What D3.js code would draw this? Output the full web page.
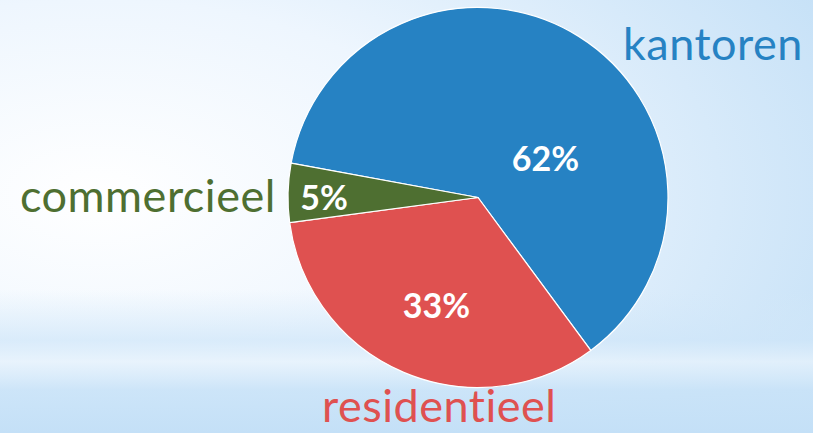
<!DOCTYPE html>
<html><head><meta charset="utf-8">
<script src="https://cdn.jsdelivr.net/npm/d3@7/dist/d3.min.js"></script>
<style>html,body{margin:0;padding:0;overflow:hidden;}svg{display:block;}</style>
</head><body>
<svg id="c" width="813" height="433"></svg>
<script>
const categories = ["kantoren", "residentieel", "commercieel"];
const values = [62, 33, 5];
const pctLabels = ["62%", "33%", "5%"];
const colors = ["#2682c3", "#df5150", "#4e6f31"];

const W = 813, H = 433;
const cx = 478, cy = 197.5, R = 190;
const startDeg = -79.6;
// label placement (angle in degrees clockwise from 12 o'clock, radius fraction)
const pctPos = [[60, 0.41], [201, 0.61], [270, 0.81]];
const catPos = [{x: 623, y: 60}, {x: 322, y: 422}, {x: 20, y: 212}];

const svg = d3.select("#c");
const defs = svg.append("defs");
const g1 = defs.append("radialGradient").attr("id", "bg1")
  .attr("cx", 0.12).attr("cy", 0.45).attr("r", 1.0).attr("gradientUnits", "objectBoundingBox");
g1.append("stop").attr("offset", "0").attr("stop-color", "#ffffff");
g1.append("stop").attr("offset", "0.45").attr("stop-color", "#eef6fe");
g1.append("stop").attr("offset", "1").attr("stop-color", "#c6e1f7");
svg.append("rect").attr("width", W).attr("height", H).attr("fill", "url(#bg1)");

const g2 = defs.append("linearGradient").attr("id", "bg2").attr("x1", 0).attr("y1", 0).attr("x2", 0).attr("y2", 1);
g2.append("stop").attr("offset", "0").attr("stop-color", "#d3e8f9").attr("stop-opacity", 0);
g2.append("stop").attr("offset", "0.35").attr("stop-color", "#cfe6f9").attr("stop-opacity", 0.7);
g2.append("stop").attr("offset", "0.5").attr("stop-color", "#e6f2fc").attr("stop-opacity", 0.8);
g2.append("stop").attr("offset", "0.7").attr("stop-color", "#c9e3f8").attr("stop-opacity", 0.9);
g2.append("stop").attr("offset", "1").attr("stop-color", "#c4e0f7").attr("stop-opacity", 1);
svg.append("rect").attr("y", 290).attr("width", W).attr("height", H - 290).attr("fill", "url(#bg2)");

const rad = d => d * Math.PI / 180;
const pie = d3.pie().sort(null).value(d => d)
  .startAngle(rad(startDeg)).endAngle(rad(startDeg) + 2 * Math.PI);
const arcs = pie(values);
const arc = d3.arc().innerRadius(0).outerRadius(R);

const g = svg.append("g").attr("transform", `translate(${cx},${cy})`);
g.selectAll("path").data(arcs).join("path")
  .attr("d", arc).attr("fill", (d, i) => colors[i])
  .attr("stroke", "#ffffff").attr("stroke-width", 1.2).attr("stroke-linejoin", "round");

const font = "Lato, 'Open Sans', sans-serif";
g.selectAll("text.pct").data(arcs).join("text").attr("class", "pct")
  .attr("x", (d, i) => Math.sin(rad(pctPos[i][0])) * R * pctPos[i][1])
  .attr("y", (d, i) => -Math.cos(rad(pctPos[i][0])) * R * pctPos[i][1])
  .attr("dy", "0.36em")
  .attr("text-anchor", "middle")
  .attr("font-family", font).attr("font-weight", "bold").attr("font-size", 34)
  .attr("fill", "#ffffff")
  .text((d, i) => pctLabels[i]);

svg.selectAll("text.cat").data(categories).join("text").attr("class", "cat")
  .attr("x", (d, i) => catPos[i].x).attr("y", (d, i) => catPos[i].y)
  .attr("text-anchor", "start")
  .attr("font-family", font).attr("font-size", 45).attr("letter-spacing", 0.5)
  .attr("fill", (d, i) => colors[i])
  .text(d => d);
</script>
</body></html>
